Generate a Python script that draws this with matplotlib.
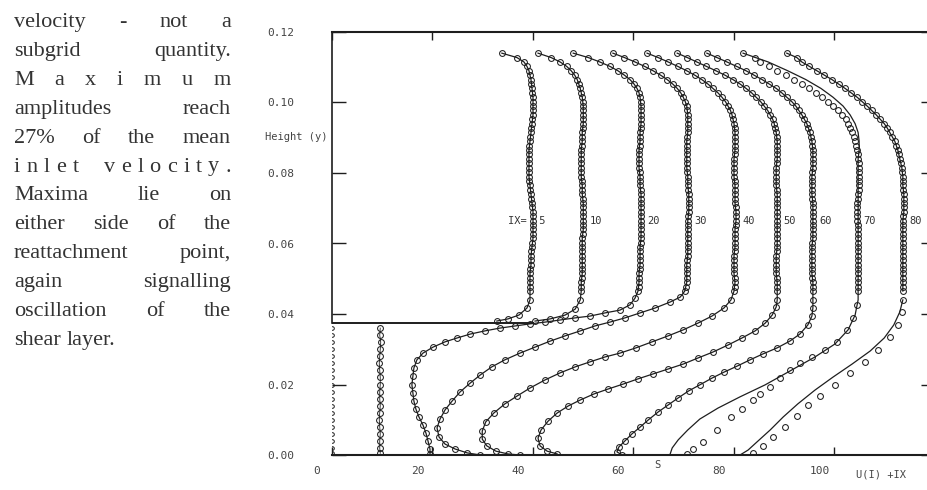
import matplotlib
matplotlib.use("Agg")
import matplotlib.pyplot as plt
from matplotlib.transforms import ScaledTranslation

# grid rows of the upper channel, shared by every station
y_up = [0.114, 0.11275, 0.1115, 0.11025, 0.109, 0.10775, 0.1065, 0.10525, 0.104, 0.10275,
        0.1015, 0.10025, 0.099, 0.09775, 0.0965, 0.09525, 0.094, 0.09275, 0.0915, 0.09025,
        0.089, 0.08775, 0.0865, 0.08525, 0.084, 0.08275, 0.0815, 0.08025, 0.079, 0.07775,
        0.0765, 0.07525, 0.074, 0.07275, 0.0715, 0.07025, 0.069, 0.06775, 0.0665, 0.06525,
        0.064, 0.06275, 0.0615, 0.06025, 0.059, 0.05775, 0.0565, 0.05525, 0.054, 0.05275,
        0.0515, 0.05025, 0.049, 0.04775, 0.0465]
# grid rows below the step (recirculation columns)
y_low = [0.036, 0.034, 0.032, 0.030, 0.028, 0.026, 0.024, 0.022, 0.020, 0.018,
         0.016, 0.014, 0.012, 0.010, 0.008, 0.006, 0.004, 0.002, 0.0005]

stations = ["5", "10", "20", "30", "40", "50", "60", "70", "80"]
step_y = 0.0375
step_end = 40.0

# U(I)+IX, station by station
ix5_up = [33.8, 36.8, 38.2, 38.8, 39.2, 39.4, 39.6, 39.7, 39.8, 39.9,
          40.0, 40.0, 40.0, 40.0, 40.0, 39.9, 39.8, 39.7, 39.6, 39.5,
          39.4, 39.3, 39.2, 39.2, 39.2, 39.2, 39.2, 39.2, 39.2, 39.3,
          39.4, 39.5, 39.6, 39.7, 39.8, 39.9, 40.0, 40.0, 40.0, 40.0,
          40.0, 40.0, 40.0, 39.9, 39.8, 39.7, 39.6, 39.6, 39.6, 39.5,
          39.4, 39.4, 39.4, 39.4, 39.4]
ix5_bend_x = [39.4, 38.8, 37.2, 35.0, 32.8]
ix5_bend_y = [0.0440, 0.0417, 0.0397, 0.0386, 0.0380]
ix5_low = [0.0] * len(y_low)

ix10_up = [41.0, 43.6, 45.4, 46.7, 47.6, 48.3, 48.8, 49.1, 49.4, 49.6,
           49.8, 49.9, 50.0, 50.0, 50.0, 50.0, 50.0, 49.9, 49.8, 49.8,
           49.8, 49.7, 49.6, 49.6, 49.6, 49.6, 49.6, 49.6, 49.6, 49.7,
           49.8, 49.8, 49.8, 49.9, 50.0, 50.0, 50.0, 50.0, 50.0, 50.0,
           50.0, 49.9, 49.8, 49.8, 49.8, 49.8, 49.8, 49.8, 49.8, 49.8,
           49.8, 49.7, 49.6, 49.6, 49.6]
ix10_bend_x = [49.4, 48.4, 46.4, 43.4, 40.4]
ix10_bend_y = [0.0440, 0.0414, 0.0397, 0.0386, 0.0380]
ix10_low = [9.6, 9.5, 9.7, 9.6, 9.5, 9.4, 9.5, 9.6, 9.6, 9.5, 9.5, 9.6, 9.5, 9.4, 9.5, 9.6,
            9.5, 9.5, 9.6]

ix20_up = [48.0, 51.0, 53.3, 55.3, 56.9, 58.2, 59.3, 60.1, 60.7, 61.1,
           61.3, 61.4, 61.5, 61.5, 61.5, 61.5, 61.5, 61.4, 61.3, 61.3,
           61.3, 61.2, 61.1, 61.1, 61.1, 61.1, 61.1, 61.2, 61.3, 61.3,
           61.3, 61.4, 61.5, 61.5, 61.5, 61.5, 61.5, 61.5, 61.5, 61.5,
           61.5, 61.5, 61.5, 61.4, 61.3, 61.3, 61.3, 61.3, 61.3, 61.2,
           61.1, 61.1, 61.1, 61.0, 60.9]
ix20_low_x = [60.3, 59.3, 57.3, 54.3, 51.3, 48.4, 45.4, 42.4, 39.4, 36.4, 33.4, 30.4, 27.5,
              24.9, 22.5, 20.1, 18.1, 16.9, 16.3, 16.1, 15.9, 16.1, 16.3, 16.7, 17.3, 18.1,
              18.7, 19.1, 19.5, 19.5]
ix20_low_y = [0.0445, 0.0426, 0.0411, 0.0403, 0.0394, 0.0389, 0.0383, 0.0377, 0.0372, 0.0366,
              0.0360, 0.0352, 0.0343, 0.0332, 0.0321, 0.0306, 0.0289, 0.0270, 0.0247, 0.0224,
              0.0199, 0.0176, 0.0153, 0.0130, 0.0108, 0.0085, 0.0062, 0.0040, 0.0017, 0.0003]

ix30_up = [55.9, 58.2, 60.3, 62.2, 63.9, 65.4, 66.7, 67.8, 68.7, 69.4,
           69.9, 70.3, 70.6, 70.7, 70.8, 70.8, 70.8, 70.8, 70.8, 70.7,
           70.6, 70.6, 70.6, 70.6, 70.6, 70.6, 70.6, 70.7, 70.8, 70.8,
           70.8, 70.9, 71.0, 71.0, 71.0, 71.0, 71.0, 70.9, 70.8, 70.8,
           70.8, 70.8, 70.8, 70.8, 70.8, 70.8, 70.8, 70.7, 70.6, 70.6,
           70.6, 70.6, 70.6, 70.4, 70.2]
ix30_low_x = [69.3, 67.3, 64.3, 61.3, 58.3, 55.3, 52.3, 49.4, 46.4, 43.4, 40.4, 37.4, 34.4,
              31.8, 29.5, 27.5, 25.5, 23.9, 22.5, 21.5, 20.9, 21.3, 22.5, 24.5, 26.9, 29.5]
ix30_low_y = [0.0448, 0.0434, 0.0417, 0.0403, 0.0389, 0.0377, 0.0366, 0.0352, 0.0338, 0.0323,
              0.0306, 0.0289, 0.0270, 0.0250, 0.0227, 0.0204, 0.0179, 0.0153, 0.0128, 0.0102,
              0.0077, 0.0051, 0.0031, 0.0017, 0.0006, 0.0]

ix40_up = [62.7, 64.9, 66.9, 68.8, 70.6, 72.2, 73.6, 74.8, 75.8, 76.8,
           77.6, 78.3, 78.8, 79.3, 79.6, 79.8, 80.0, 80.1, 80.2, 80.2,
           80.2, 80.2, 80.2, 80.1, 80.0, 80.0, 80.0, 80.0, 80.0, 80.1,
           80.2, 80.2, 80.2, 80.2, 80.2, 80.3, 80.4, 80.4, 80.4, 80.3,
           80.2, 80.2, 80.2, 80.2, 80.2, 80.1, 80.0, 80.0, 80.0, 80.0,
           80.0, 80.1, 80.2, 80.1, 80.0]
ix40_low_x = [79.4, 78.0, 75.6, 72.8, 69.9, 66.9, 63.7, 60.5, 57.3, 54.3, 51.3, 48.4, 45.4,
              42.4, 39.4, 36.8, 34.4, 32.2, 30.6, 29.9, 29.9, 30.8, 32.6, 35.0, 37.4]
ix40_low_y = [0.0440, 0.0417, 0.0394, 0.0374, 0.0355, 0.0338, 0.0321, 0.0304, 0.0289, 0.0278,
              0.0264, 0.0250, 0.0233, 0.0213, 0.0190, 0.0167, 0.0145, 0.0119, 0.0094, 0.0068,
              0.0045, 0.0026, 0.0011, 0.0003, 0.0]

ix50_up = [68.7, 70.7, 72.6, 74.5, 76.4, 78.2, 79.8, 81.2, 82.4, 83.5,
           84.4, 85.3, 86.0, 86.7, 87.2, 87.7, 88.0, 88.2, 88.4, 88.5,
           88.6, 88.6, 88.6, 88.6, 88.6, 88.5, 88.4, 88.4, 88.4, 88.4,
           88.4, 88.5, 88.6, 88.6, 88.6, 88.6, 88.6, 88.6, 88.6, 88.6,
           88.6, 88.6, 88.6, 88.6, 88.6, 88.5, 88.4, 88.4, 88.4, 88.4,
           88.4, 88.5, 88.6, 88.6, 88.6]
ix50_low_x = [88.6, 88.4, 87.6, 86.2, 84.2, 81.6, 78.8, 75.8, 72.8, 69.9, 66.9, 63.9, 60.9,
              57.9, 54.9, 52.1, 49.4, 47.0, 44.8, 43.0, 41.6, 41.0, 41.4, 42.8, 44.8]
ix50_low_y = [0.0440, 0.0420, 0.0397, 0.0374, 0.0352, 0.0332, 0.0312, 0.0292, 0.0275, 0.0258,
              0.0244, 0.0230, 0.0216, 0.0201, 0.0187, 0.0173, 0.0156, 0.0139, 0.0119, 0.0096,
              0.0071, 0.0048, 0.0026, 0.0011, 0.0003]

ix60_up = [74.6, 76.6, 78.6, 80.5, 82.4, 84.0, 85.6, 87.0, 88.4, 89.5,
           90.5, 91.5, 92.3, 92.9, 93.5, 94.0, 94.5, 94.8, 95.1, 95.3,
           95.5, 95.6, 95.7, 95.7, 95.7, 95.7, 95.7, 95.6, 95.5, 95.5,
           95.5, 95.5, 95.5, 95.6, 95.7, 95.7, 95.7, 95.7, 95.7, 95.7,
           95.7, 95.7, 95.7, 95.6, 95.5, 95.5, 95.5, 95.5, 95.5, 95.5,
           95.5, 95.6, 95.7, 95.7, 95.7]
ix60_low_x = [95.7, 95.7, 95.5, 94.7, 93.1, 91.1, 88.6, 85.8, 83.2, 80.6, 78.0, 75.6, 73.2,
              71.0, 68.9, 66.9, 64.9, 62.9, 61.3, 59.7, 58.3, 57.1, 56.7, 57.7]
ix60_low_y = [0.0440, 0.0417, 0.0394, 0.0369, 0.0343, 0.0323, 0.0304, 0.0287, 0.0270, 0.0252,
              0.0235, 0.0218, 0.0199, 0.0182, 0.0162, 0.0142, 0.0122, 0.0099, 0.0079, 0.0060,
              0.0040, 0.0023, 0.0009, 0.0]

ix70_up = [81.8, 84.2, 85.2, 86.9, 88.6, 90.3, 92.0, 93.5, 94.9, 96.3,
           97.5, 98.7, 99.7, 100.7, 101.5, 102.2, 102.7, 103.1, 103.5, 103.8,
           104.1, 104.3, 104.5, 104.6, 104.7, 104.8, 104.9, 104.9, 104.9, 104.9,
           104.9, 104.8, 104.7, 104.6, 104.5, 104.5, 104.5, 104.5, 104.5, 104.6,
           104.7, 104.7, 104.7, 104.7, 104.7, 104.7, 104.7, 104.7, 104.7, 104.7,
           104.7, 104.7, 104.7, 104.7, 104.7]
ix70_low_x = [104.5, 103.7, 102.5, 100.5, 98.1, 95.5, 93.1, 91.1, 89.2, 87.2, 85.2, 83.8, 81.6,
              79.4, 76.6, 73.8, 71.8, 70.6]
ix70_low_y = [0.0426, 0.0389, 0.0355, 0.0321, 0.0298, 0.0278, 0.0261, 0.0241, 0.0218, 0.0193,
              0.0173, 0.0156, 0.0130, 0.0108, 0.0071, 0.0037, 0.0017, 0.0003]
# computed (solid line) profile at station 70, where it parts from the circles
ix70_fit_x = [84.2, 86.8, 90.7, 94.3, 97.3, 99.7, 101.7, 103.1, 104.1, 104.7, 104.9, 104.9,
              104.7, 104.7, 104.7, 104.7, 104.1, 102.7, 100.1, 96.1, 91.1, 86.2, 81.2, 76.8,
              73.2, 70.8, 68.9, 67.7, 67.3]
ix70_fit_y = [0.1128, 0.1115, 0.109, 0.1065, 0.104, 0.1015, 0.099, 0.0965, 0.094, 0.0915,
              0.089, 0.0865, 0.084, 0.070, 0.055, 0.0440, 0.0397, 0.0355, 0.0315, 0.0278,
              0.0238, 0.0199, 0.0165, 0.0133, 0.0102, 0.0071, 0.0043, 0.0020, 0.0003]

ix80_up = [90.5, 92.5, 93.5, 95.0, 96.5, 98.0, 99.5, 100.8, 102.1, 103.3,
           104.5, 105.5, 106.5, 107.4, 108.3, 109.1, 109.9, 110.5, 111.0, 111.5,
           112.0, 112.3, 112.6, 112.8, 113.0, 113.2, 113.4, 113.5, 113.6, 113.6,
           113.6, 113.7, 113.8, 113.8, 113.8, 113.8, 113.8, 113.7, 113.6, 113.6,
           113.6, 113.6, 113.6, 113.6, 113.6, 113.6, 113.6, 113.6, 113.6, 113.6,
           113.6, 113.6, 113.6, 113.6, 113.6]
ix80_low_x = [113.6, 113.4, 112.6, 111.0, 108.7, 106.1, 103.1, 100.1, 97.1, 94.7, 92.5, 90.1,
              87.8, 85.8, 83.8]
ix80_low_y = [0.0440, 0.0406, 0.0369, 0.0335, 0.0298, 0.0264, 0.0233, 0.0199, 0.0167, 0.0142,
              0.0111, 0.0079, 0.0051, 0.0026, 0.0006]
ix80_fit_x = [113.6, 113.0, 111.8, 109.9, 107.1, 103.5, 99.7, 96.1, 92.7, 89.8, 87.2, 84.8,
              82.8, 81.2]
ix80_fit_y = [0.0440, 0.0406, 0.0369, 0.0332, 0.0295, 0.0258, 0.0221, 0.0184, 0.0145, 0.0108,
              0.0071, 0.0040, 0.0014, 0.0]

y_ticks = [0.0, 0.02, 0.04, 0.06, 0.08, 0.10, 0.12]
y_ticklabels = ["0.00", "0.02", "0.04", "0.06", "0.08", "0.10", "0.12"]
x_ticks = [0, 20, 40, 60, 80, 100]
x_ticklabels = ["0", "20", "40", "60", "80", "100"]

text_lines = [
    "velocity - not a",
    "subgrid quantity.",
    "M a x i m u m",
    "amplitudes reach",
    "27% of the mean",
    "inlet velocity.",
    "Maxima lie on",
    "either side of the",
    "reattachment point,",
    "again signalling",
    "oscillation of the",
    "shear layer.",
]

W, H = 928, 490
ink = "#1e1e1e"
mono = "DejaVu Sans Mono"

fig = plt.figure(figsize=(W / 100, H / 100), dpi=100)
fig.patch.set_facecolor("white")
ax = fig.add_axes([332 / W, 35 / H, 603 / W, 423 / H])
ax.set_xlim(0, 120)
ax.set_ylim(0, 0.12)

line_kw = dict(color=ink, lw=0.9, zorder=3)
dot_kw = dict(ls="none", marker="o", ms=4.2, mfc="none", mec=ink, mew=0.75, zorder=4)

# upper channel + shear layer bend, for each station
uppers = [ix5_up, ix10_up, ix20_up, ix30_up, ix40_up, ix50_up, ix60_up, ix70_up, ix80_up]
bends = [(ix5_bend_x, ix5_bend_y), (ix10_bend_x, ix10_bend_y),
         (ix20_low_x, ix20_low_y), (ix30_low_x, ix30_low_y), (ix40_low_x, ix40_low_y),
         (ix50_low_x, ix50_low_y), (ix60_low_x, ix60_low_y), (ix70_low_x, ix70_low_y),
         (ix80_low_x, ix80_low_y)]

for k, (up, (bx, by)) in enumerate(zip(uppers, bends)):
    xs = up + bx
    ys = y_up + by
    if stations[k] == "70":
        ax.plot(ix70_fit_x, ix70_fit_y, **line_kw)
        ax.plot([ix70_up[0], ix70_fit_x[0]], [y_up[0], ix70_fit_y[0]], **line_kw)
    elif stations[k] == "80":
        ax.plot(up, y_up, **line_kw)
        ax.plot(ix80_fit_x, ix80_fit_y, **line_kw)
    else:
        ax.plot(xs, ys, **line_kw)
    ax.plot(xs, ys, **dot_kw)

# recirculation columns under the step
ax.plot(ix5_low, y_low, ls="none", marker="o", ms=2.6, mfc="none", mec=ink, mew=0.7)
ax.plot(ix10_low, y_low, color=ink, lw=0.6)
ax.plot(ix10_low, y_low, **dot_kw)

# step wall
ax.plot([0, step_end], [step_y, step_y], color=ink, lw=1.4, zorder=3)

# station labels next to each profile
lab_row = 38
for k, (name, up) in enumerate(zip(stations, uppers)):
    if k == 0:
        ax.text(up[lab_row] + 2.4, y_up[lab_row], "IX=  " + name, ha="right", va="center",
                family=mono, fontsize=7.5, color="#333", zorder=5)
    else:
        ax.text(up[lab_row] + 1.3, y_up[lab_row], name, ha="left", va="center",
                family=mono, fontsize=7.5, color="#333", zorder=5)

# frame
for side in ["top", "bottom", "left", "right"]:
    ax.spines[side].set_color(ink)
ax.spines["top"].set_linewidth(1.5)
ax.spines["bottom"].set_linewidth(1.5)
ax.spines["left"].set_linewidth(1.2)
ax.spines["left"].set_bounds(step_y, 0.12)
ax.spines["right"].set_visible(False)

ax.set_yticks(y_ticks)
ax.set_yticklabels(y_ticklabels)
ax.set_xticks(x_ticks)
ax.set_xticklabels(x_ticklabels)
ax.tick_params(axis="y", direction="in", length=10, width=1.0, color=ink,
               right=True, pad=27, labelsize=8, labelcolor="#444")
ax.tick_params(axis="x", direction="in", length=6, width=1.0, color=ink,
               top=True, pad=8, labelsize=8, labelcolor="#444")
for lab in ax.get_yticklabels() + ax.get_xticklabels():
    lab.set_family(mono)
shift = ScaledTranslation(-15 / 100, 0, fig.dpi_scale_trans)
for lab in ax.get_xticklabels():
    lab.set_transform(lab.get_transform() + shift)

ax.text(64.7, -0.0028, "S", ha="center", va="center", family=mono, fontsize=7.5,
        color="#444", clip_on=False)
fig.text(328 / W, 1 - 137 / H, "Height (y)", ha="right", va="center", family=mono,
         fontsize=7.5, color="#444")
fig.text(856 / W, 1 - 474 / H, "U(I) +IX", ha="left", va="center", family=mono,
         fontsize=7.5, color="#444")

# justified paragraph on the left
renderer = fig.canvas.get_renderer()
x0, x1 = 14, 231
base0, lead = 27, 28.9
serif = dict(family="Liberation Serif", fontsize=16, color="#333")

for i, line in enumerate(text_lines):
    yb = 1 - (base0 + i * lead) / H
    if line == "inlet velocity.":
        tokens, weights = [], []
        for w, word in enumerate(line.split()):
            for c, ch in enumerate(word):
                tokens.append(ch)
                weights.append(4 if (c == 0 and w > 0) else 1)
        weights = weights[1:]
    else:
        tokens = line.split()
        weights = [1] * (len(tokens) - 1)
    texts = [fig.text(0, yb, t, va="baseline", ha="left", **serif) for t in tokens]
    widths = [t.get_window_extent(renderer).width for t in texts]
    if i == len(text_lines) - 1:
        unit = 5.5
    else:
        unit = (x1 - x0 - sum(widths)) / sum(weights)
    x = x0
    for j, t in enumerate(texts):
        t.set_x(x / W)
        if j < len(weights):
            x += widths[j] + unit * weights[j]

fig.savefig("out.png", dpi=100, facecolor="white")
